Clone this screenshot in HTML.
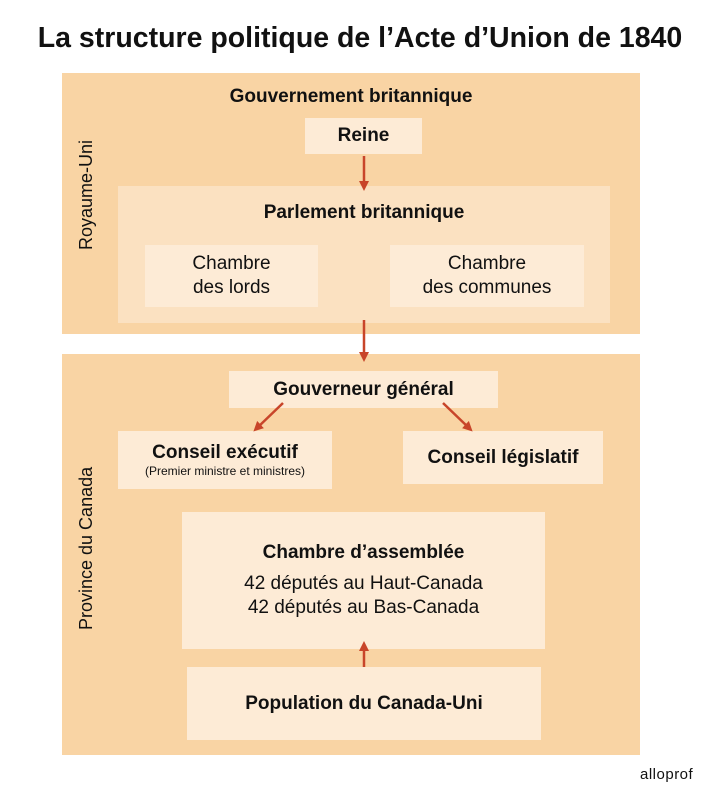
<!DOCTYPE html>
<html><head><meta charset="utf-8"><style>
body{margin:0;width:720px;height:804px;background:#fff;font-family:"Liberation Sans","DejaVu Sans",sans-serif;position:relative;overflow:hidden;color:#111}
div{position:absolute;box-sizing:border-box}
.o{background:#f9d4a4}
.m{background:#fbe1c1}
.i{background:#fdebd6;display:flex;align-items:center;justify-content:center;text-align:center;flex-direction:column}
.b{font-weight:bold;font-size:19px}
.n{font-size:19px;line-height:24px}
.v{transform:rotate(-90deg);transform-origin:center;font-size:18px;white-space:nowrap;text-align:center}
</style></head><body>
<div style="left:0;top:22px;width:720px;text-align:center;font-weight:bold;font-size:28.5px">La structure politique de l’Acte d’Union de 1840</div>

<div class="o" style="left:62px;top:73px;width:578px;height:261px"></div>
<div class="b" style="left:62px;top:86px;width:578px;text-align:center">Gouvernement britannique</div>
<div class="v" style="left:38px;top:188px;width:100px;height:24px">Royaume-Uni</div>
<div class="i b" style="left:305px;top:118px;width:117px;height:36px">Reine</div>
<div class="m" style="left:118px;top:186px;width:492px;height:137px"></div>
<div class="b" style="left:118px;top:202px;width:492px;text-align:center">Parlement britannique</div>
<div class="i n" style="left:145px;top:245px;width:173px;height:62px">Chambre<br>des lords</div>
<div class="i n" style="left:390px;top:245px;width:194px;height:62px">Chambre<br>des communes</div>

<div class="o" style="left:62px;top:354px;width:578px;height:401px"></div>
<div class="v" style="left:13px;top:543px;width:150px;height:24px">Province du Canada</div>
<div class="i b" style="left:229px;top:371px;width:269px;height:37px">Gouverneur général</div>
<div class="i" style="left:118px;top:431px;width:214px;height:58px"><span class="b">Conseil exécutif</span><span style="font-size:12px">(Premier ministre et ministres)</span></div>
<div class="i b" style="left:403px;top:431px;width:200px;height:53px">Conseil législatif</div>
<div class="i" style="left:182px;top:512px;width:363px;height:137px"><span class="b" style="margin-bottom:8px">Chambre d’assemblée</span><span class="n">42 députés au Haut-Canada<br>42 députés au Bas-Canada</span></div>
<div class="i b" style="left:187px;top:667px;width:354px;height:73px">Population du Canada-Uni</div>
<div style="left:640px;top:766px;font-size:15px;letter-spacing:0.5px">alloprof</div>

<svg style="position:absolute;left:0;top:0" width="720" height="804">
<defs><marker id="a" markerWidth="4" markerHeight="4" refX="2" refY="2" orient="auto"><path d="M0,0L4,2L0,4z" fill="#c8452a"/></marker></defs>
<g stroke="#c8452a" stroke-width="2.5" marker-end="url(#a)">
<line x1="364" y1="156" x2="364" y2="186"/>
<line x1="364" y1="320" x2="364" y2="357"/>
<line x1="283" y1="403" x2="257" y2="428"/>
<line x1="443" y1="403" x2="469" y2="428"/>
<line x1="364" y1="667" x2="364" y2="646"/>
</g></svg>
</body></html>
